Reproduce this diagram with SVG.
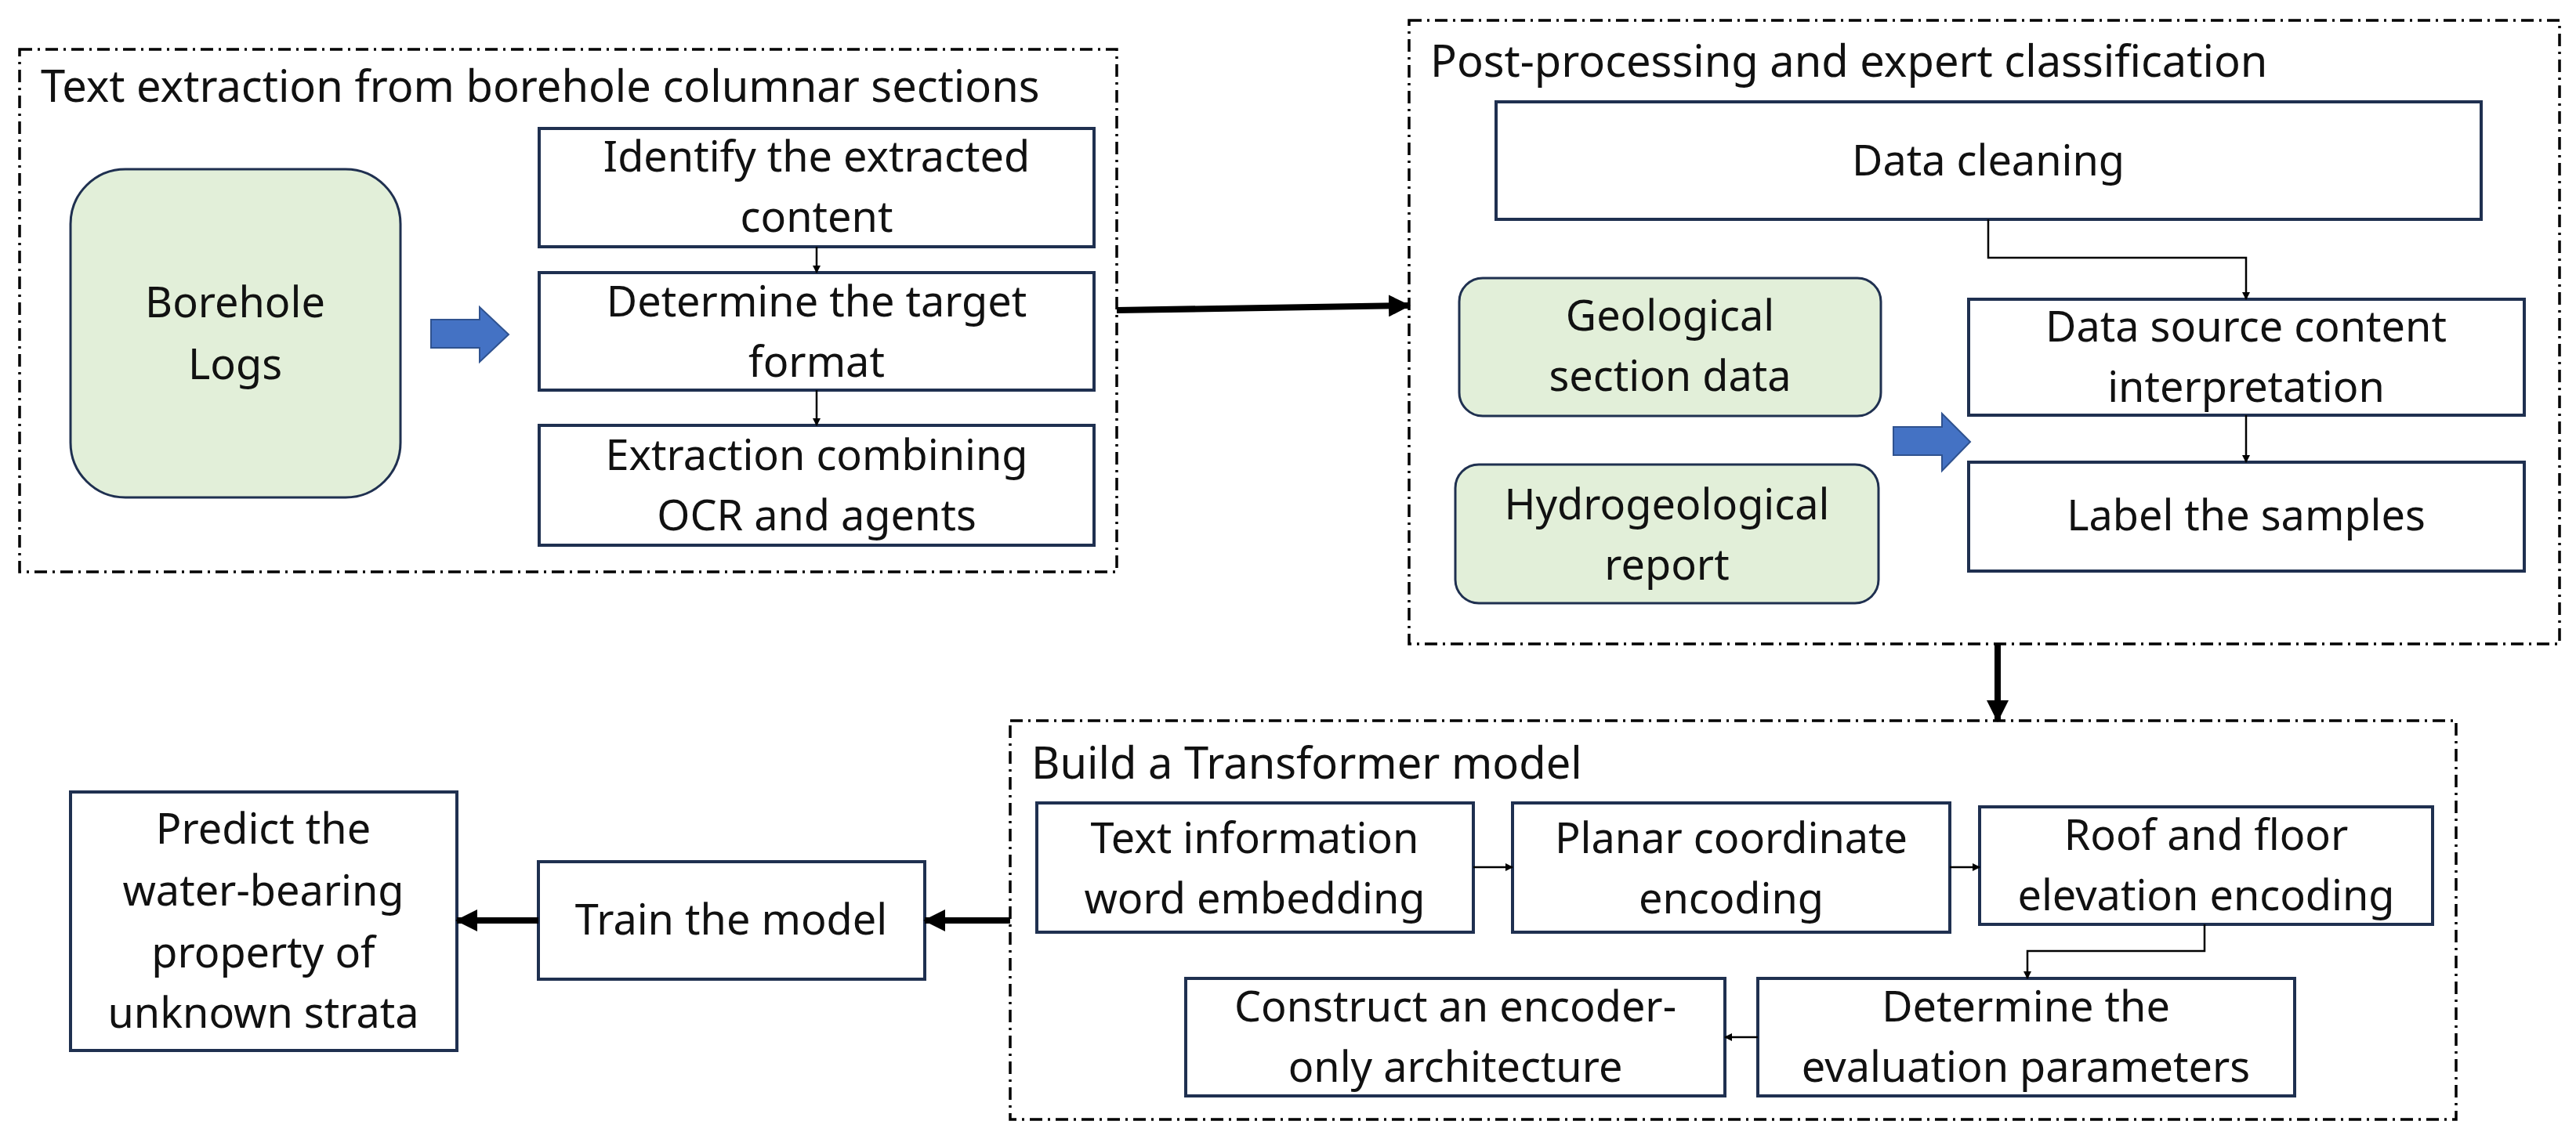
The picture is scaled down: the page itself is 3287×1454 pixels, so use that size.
<svg xmlns="http://www.w3.org/2000/svg" width="3287" height="1454" viewBox="0 0 3287 1454">
<style>
.grp{fill:none;stroke:#000;stroke-width:3.5;stroke-dasharray:16 7 3 7}
.box{fill:#fff;stroke:#1f3050;stroke-width:4}
.grn{fill:#e2efd9;stroke:#1f3050;stroke-width:3}
text{font-family:"Noto Sans","Liberation Sans",sans-serif;font-size:54px;fill:#111;text-anchor:middle}
.t{font-size:56px;text-anchor:start}
.c{fill:none;stroke:#000;stroke-width:2.5}
.k{fill:none;stroke:#000;stroke-width:8}
.blue{fill:#4472c4;stroke:#2f528f;stroke-width:2}
</style>
<defs>
<marker id="a" markerWidth="10" markerHeight="10" refX="9" refY="5" orient="auto" markerUnits="userSpaceOnUse" viewBox="0 0 10 10"><path d="M0,0 L10,5 L0,10 z"/></marker>
<marker id="ab" markerWidth="28" markerHeight="28" refX="26" refY="14" orient="auto" markerUnits="userSpaceOnUse" viewBox="0 0 28 28"><path d="M0,0 L28,14 L0,28 z"/></marker>
<marker id="as" markerWidth="18" markerHeight="24" refX="17" refY="12" orient="auto" markerUnits="userSpaceOnUse" viewBox="0 0 18 24"><path d="M0,0 L18,12 L0,24 z"/></marker>
</defs>
<g id="g1"><rect class="grp" x="25" y="63" width="1400" height="667"/><text class="t" x="52" y="130">Text extraction from borehole columnar sections</text></g>
<g id="g2"><rect class="grp" x="1798" y="26" width="1468" height="796"/><text class="t" x="1825" y="98">Post-processing and expert classification</text></g>
<g id="g3"><rect class="grp" x="1289" y="920" width="1845" height="509"/><text class="t" x="1316" y="994">Build a Transformer model</text></g>
<g id="n-borehole"><rect class="grn" x="90" y="216" width="421" height="419" rx="70"/><text x="300" y="405">Borehole</text><text x="300" y="484">Logs</text></g>
<g id="n-identify"><rect class="box" x="688" y="164" width="708" height="151"/><text x="1042" y="219">Identify the extracted</text><text x="1042" y="296">content</text></g>
<g id="n-determine"><rect class="box" x="688" y="348" width="708" height="150"/><text x="1042" y="404">Determine the target</text><text x="1042" y="481">format</text></g>
<g id="n-extract"><rect class="box" x="688" y="543" width="708" height="153"/><text x="1042" y="600">Extraction combining</text><text x="1042" y="677">OCR and agents</text></g>
<g id="n-cleaning"><rect class="box" x="1909" y="130" width="1257" height="150"/><text x="2537" y="224">Data cleaning</text></g>
<g id="n-source"><rect class="box" x="2512" y="382" width="709" height="148"/><text x="2866" y="436">Data source content</text><text x="2866" y="513">interpretation</text></g>
<g id="n-label"><rect class="box" x="2512" y="590" width="709" height="139"/><text x="2866" y="677">Label the samples</text></g>
<g id="n-geo"><rect class="grn" x="1862" y="355" width="538" height="176" rx="30"/><text x="2131" y="422">Geological</text><text x="2131" y="499">section data</text></g>
<g id="n-hydro"><rect class="grn" x="1857" y="593" width="540" height="177" rx="30"/><text x="2127" y="663">Hydrogeological</text><text x="2127" y="740">report</text></g>
<g id="n-text"><rect class="box" x="1323" y="1025" width="557" height="165"/><text x="1601" y="1089">Text information</text><text x="1601" y="1166">word embedding</text></g>
<g id="n-planar"><rect class="box" x="1930" y="1025" width="558" height="165"/><text x="2209" y="1089">Planar coordinate</text><text x="2209" y="1166">encoding</text></g>
<g id="n-roof"><rect class="box" x="2526" y="1030" width="578" height="150"/><text x="2815" y="1085">Roof and floor</text><text x="2815" y="1162">elevation encoding</text></g>
<g id="n-eval"><rect class="box" x="2243" y="1249" width="685" height="150"/><text x="2585" y="1304">Determine the</text><text x="2585" y="1381">evaluation parameters</text></g>
<g id="n-construct"><rect class="box" x="1513" y="1249" width="688" height="150"/><text x="1857" y="1304">Construct an encoder-</text><text x="1857" y="1381">only architecture</text></g>
<g id="n-train"><rect class="box" x="687" y="1100" width="493" height="150"/><text x="933" y="1193">Train the model</text></g>
<g id="n-predict"><rect class="box" x="90" y="1011" width="493" height="330"/><text x="336" y="1077">Predict the</text><text x="336" y="1156">water-bearing</text><text x="336" y="1235">property of</text><text x="336" y="1312">unknown strata</text></g>
<g id="connectors">
<path class="blue" d="M550,408 H612 V392 L649,427 L612,462 V444 H550 Z"/>
<path class="blue" d="M2416,545 H2478 V528 L2514,564 L2478,601 V581 H2416 Z"/>
<path class="c" d="M1042,315 V348" marker-end="url(#a)"/>
<path class="c" d="M1042,498 V543" marker-end="url(#a)"/>
<path class="k" d="M1425,396 L1798,390" marker-end="url(#ab)"/>
<path class="c" d="M2537,280 V329 H2866 V382" marker-end="url(#a)"/>
<path class="c" d="M2866,530 V590" marker-end="url(#a)"/>
<path class="k" d="M2549,822 V920" marker-end="url(#ab)"/>
<path class="c" d="M1880,1107 H1930" marker-end="url(#a)"/>
<path class="c" d="M2488,1107 H2526" marker-end="url(#a)"/>
<path class="c" d="M2813,1180 V1214 H2587 V1249" marker-end="url(#a)"/>
<path class="c" d="M2243,1324 H2201" marker-end="url(#a)"/>
<path class="k" d="M1289,1175 H1180" marker-end="url(#ab)"/>
<path class="k" d="M687,1175 H583" marker-end="url(#ab)"/>
</g>
</svg>
